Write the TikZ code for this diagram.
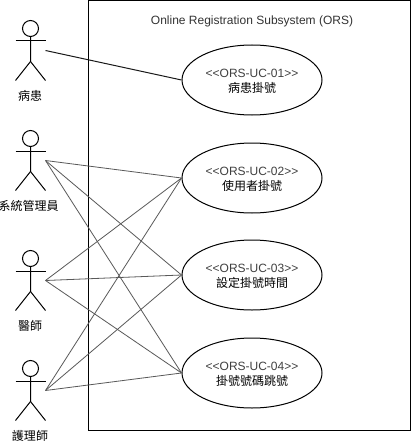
\documentclass[tikz,border=0pt]{standalone}
\usepackage{fontspec}
\setmainfont{Liberation Sans}
\newfontfamily\cjk{Noto Sans CJK TC}
\usetikzlibrary{shapes.geometric}
\tikzset{
  usecase/.style={draw=black,line width=1pt,ellipse,minimum width=140pt,minimum height=70pt,inner sep=0pt,align=center,font=\fontsize{12pt}{15.5pt}\selectfont},
  actorbox/.style={minimum width=30pt,minimum height=60pt,inner sep=0pt,outer sep=0pt},
  actorline/.style={line width=1pt,draw=black},
  actorlabel/.style={inner sep=0pt,font=\cjk\fontsize{12pt}{14pt}\selectfont},
  assoc/.style={line width=.8pt,draw=black!65},
  assocdark/.style={line width=1pt,draw=black!90}
}
\newcommand{\stickman}[5]{%
  \node[actorbox] (#1) at (#2,#3) {};
  \draw[actorline] (#1.north) ++(0,8) circle (8);
  \draw[actorline] (#1.north) ++(0,16) -- ++(0,25) -- (#1.south west);
  \draw[actorline] (#1.center) ++(0,11) -- (#1.south east);
  \draw[actorline] (#1.north west) ++(0,20.5) -- ++(30,0);
  \node[actorlabel] (#1l) at (#5,#3+45) {#4};
}
\newcommand{\ucid}[1]{\rule{0pt}{10.8pt}\textcolor{black!75}{<{}<#1>{}>}}
\begin{document}
\begin{tikzpicture}[x=1pt,y=-1pt]
\useasboundingbox (0,0) rectangle (416,441);
\fill[white] (0,0) rectangle (416,441);
\node[draw=black,line width=1pt,minimum width=322pt,minimum height=430pt,inner sep=0pt] (sys) at (249.5,215.5) {};
\node[inner sep=0pt,text=black!80,font=\fontsize{12pt}{14pt}\selectfont] (title) at (252,21) {Online Registration Subsystem (ORS)};
\node[usecase] (uc1) at (252,80) {\ucid{ORS-UC-01}\\{\cjk 病患掛號}};
\node[usecase] (uc2) at (252,178) {\ucid{ORS-UC-02}\\{\cjk 使用者掛號}};
\node[usecase] (uc3) at (252,275) {\ucid{ORS-UC-03}\\{\cjk 設定掛號時間}};
\node[usecase] (uc4) at (252,373) {\ucid{ORS-UC-04}\\{\cjk 掛號號碼跳號}};
\stickman{a1}{30.5}{50.5}{病患}{30}
\stickman{a2}{30.5}{160.5}{系統管理員}{28.5}
\stickman{a3}{30.5}{280.5}{醫師}{30}
\stickman{a4}{30.5}{390.5}{護理師}{30}
\draw[assocdark] (a1.east) -- (uc1.west);
\foreach \a in {a2,a3,a4}{
  \foreach \u in {uc2,uc3,uc4}{
    \draw[assoc] (\a.east) -- (\u.west);
  }
}
\end{tikzpicture}
\end{document}
